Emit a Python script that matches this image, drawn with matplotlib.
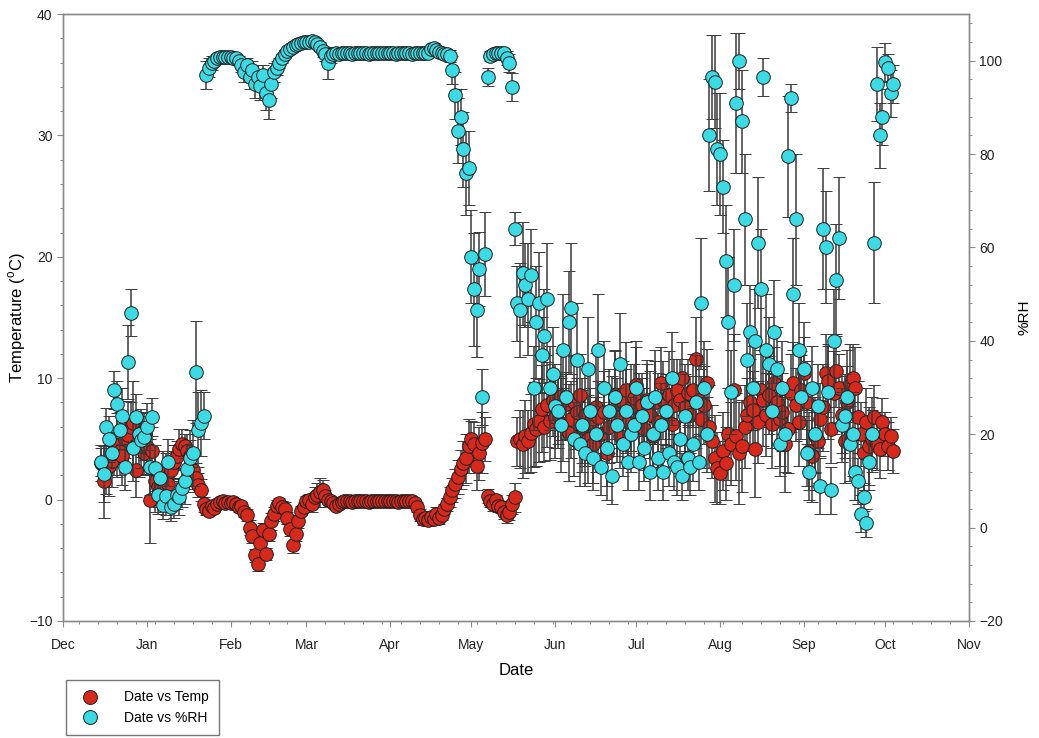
import matplotlib.pyplot as plt
import matplotlib.dates as mdates
from matplotlib.lines import Line2D
import pandas as pd

plt.rcParams['font.family'] = ['Liberation Sans', 'DejaVu Sans']
plt.rcParams['mathtext.fontset'] = 'custom'
plt.rcParams['mathtext.rm'] = 'Liberation Sans'

# daily readings, 15 Dec 2004 - 4 Oct 2005
dates = pd.date_range('2004-12-15', '2005-10-04', freq='D')

temp = [
    # Dec
    3.0, 1.5, 2.5, 2.8, 3.2, 3.8, 4.5, 4.0, 3.6, 5.0, 5.3, 6.0, 6.3, 2.4, 4.5, 5.5, 3.8,
    # Jan
    4.3, 0.0, 4.0, 1.5, 1.0, 0.8, 2.2, 1.8, 1.3, 2.4, 3.1, 3.6, 4.2, 4.6, 4.4, 4.0,
    3.6, 2.4, 1.8, 1.2, 0.8, -0.4, -0.8, -0.9, -0.5, -0.7, -0.4, -0.2, -0.1, -0.3, -0.2,
    # Feb
    -0.3, -0.2, -0.4, -0.6, -0.5, -1.0, -1.3, -2.3, -3.0, -4.6, -5.3, -3.6, -2.5, -4.5,
    -2.8, -1.8, -1.2, -0.5, -0.3, -0.6, -0.8, -1.5, -2.4, -3.7, -2.8, -1.8, -0.9, -0.6,
    # Mar
    -0.1, 0.0, -0.4, 0.2, 0.4, 0.6, 0.8, 0.3, 0.0, -0.1, -0.3, -0.5, -0.4, -0.2, -0.1, -0.1,
    -0.1, -0.2, -0.1, -0.1, -0.1, -0.1, -0.1, -0.2, -0.1, -0.1, -0.1, -0.1, -0.1, -0.1, -0.1,
    # Apr
    -0.1, -0.1, -0.1, -0.2, -0.1, -0.1, -0.1, -0.1, -0.1, -0.3, -0.6, -1.3, -1.6, -1.5, -1.7,
    -1.4, -1.6, -1.2, -1.5, -1.3, -0.8, -0.4, 0.2, 0.8, 1.3, 1.9, 2.5, 3.0, 3.4, 4.4,
    # May
    5.0, 4.6, 2.8, 3.8, 4.7, 5.0, 0.3, -0.1, -0.4, 0.0, -0.5, -0.6, -1.0, -1.3, -1.0, -0.4,
    0.2, 4.8, 5.0, 4.6, 5.2, 4.8, 5.5, 6.2, 5.8, 6.5, 7.5, 6.0, 7.8, 6.5, 8.2,
    # Jun
    6.8, 7.4, 8.5, 6.2, 7.9, 5.5, 6.6, 8.0, 7.2, 8.6, 6.0, 7.0, 5.0, 6.4, 4.6,
    7.6, 6.8, 5.4, 7.2, 3.8, 6.0, 7.4, 8.6, 6.8, 5.2, 8.0, 9.0, 6.4, 7.6, 8.4,
    # Jul
    9.4, 6.6, 7.8, 5.8, 8.2, 7.0, 5.2, 8.0, 6.4, 9.6, 8.2, 7.3, 8.6, 6.2, 7.8, 9.0,
    8.2, 10.0, 7.6, 8.8, 7.0, 9.0, 11.6, 8.2, 6.6, 7.8, 9.6, 6.0, 4.8, 3.4, 2.6,
    # Aug
    2.2, 4.0, 3.0, 5.4, 4.6, 9.0, 5.2, 3.8, 4.4, 6.0, 7.0, 8.0, 7.4, 4.2, 6.4, 9.0,
    8.2, 7.0, 8.6, 6.2, 9.6, 8.0, 6.6, 7.2, 4.6, 5.8, 8.8, 9.6, 7.8, 6.4, 9.0,
    # Sep
    10.4, 8.0, 4.0, 3.6, 5.2, 4.8, 6.6, 7.6, 10.4, 9.8, 5.8, 8.8, 10.6, 9.2, 7.0,
    4.8, 8.0, 9.6, 10.0, 9.2, 6.8, 5.4, 3.8, 6.4, 4.4, 5.0, 6.8, 4.6, 4.2, 6.4,
    # Oct
    5.4, 4.4, 5.2, 4.0,
]

temp_err = [
    1.5, 3.0, 2.0, 2.5, 2.2, 1.8, 2.6, 2.0, 2.4, 1.6, 2.8, 2.0, 3.5, 2.2, 2.6, 2.0, 1.8,
    2.2, 3.6, 2.0, 2.5, 1.6, 1.4, 1.8, 2.0, 1.5, 1.6, 1.4, 1.2, 1.6, 1.2, 1.0, 1.4,
    1.3, 1.5, 1.2, 1.0, 0.9, 0.6, 0.5, 0.4, 0.4, 0.3, 0.3, 0.3, 0.3, 0.3, 0.3,
    0.3, 0.3, 0.3, 0.4, 0.3, 0.4, 0.5, 0.6, 0.6, 0.5, 0.6, 0.7, 0.6, 0.5,
    0.6, 0.7, 0.6, 0.5, 0.4, 0.5, 0.6, 0.5, 0.6, 0.7, 0.6, 0.5, 0.4, 0.4,
    0.4, 0.5, 0.6, 0.8, 1.0, 1.2, 0.8, 0.5, 0.4, 0.3, 0.3, 0.3, 0.2, 0.2, 0.2, 0.1,
    0.1, 0.2, 0.1, 0.1, 0.1, 0.1, 0.1, 0.2, 0.1, 0.1, 0.1, 0.1, 0.1, 0.1, 0.1,
    0.1, 0.1, 0.1, 0.2, 0.1, 0.1, 0.1, 0.1, 0.2, 0.3, 0.4, 0.5, 0.5, 0.6, 0.5,
    0.4, 0.5, 0.6, 0.5, 0.4, 0.4, 0.5, 0.8, 1.0, 1.2, 1.4, 1.6, 1.8, 2.0, 2.2,
    1.5, 1.8, 2.0, 2.2, 2.5, 1.8, 0.6, 0.5, 0.5, 0.4, 0.5, 0.5, 0.6, 0.6, 0.7, 0.8,
    1.2, 2.0, 2.4, 2.8, 3.0, 2.6, 3.2, 3.5, 3.0, 3.4, 3.6, 2.8, 3.5, 3.2, 3.0,
    3.4, 2.8, 3.6, 3.0, 2.6, 4.0, 3.2, 3.8, 2.8, 3.4, 3.0, 4.2, 3.6, 2.8, 3.2,
    4.5, 3.0, 2.6, 3.4, 3.8, 3.0, 2.8, 3.6, 3.2, 2.6, 3.4, 4.0, 3.0, 3.6, 2.8,
    3.2, 3.8, 2.6, 3.4, 3.0, 3.6, 2.8, 3.4, 4.0, 3.0, 3.2, 2.8, 3.6, 3.0, 3.8, 2.6,
    3.4, 3.0, 3.6, 2.8, 3.2, 3.0, 3.4, 3.0, 3.6, 3.2, 2.8, 3.4, 3.0, 3.6, 3.0,
    2.6, 3.2, 3.0, 3.8, 3.4, 4.6, 3.6, 4.2, 3.8, 3.4, 3.0, 3.6, 3.2, 4.0, 3.4, 3.0,
    3.8, 3.4, 3.2, 3.6, 3.0, 3.4, 3.8, 3.2, 4.0, 3.6, 3.2, 3.4, 3.0, 3.6, 3.2,
    3.0, 3.4, 3.2, 3.8, 3.0, 3.4, 3.0, 3.6, 3.2, 3.0, 2.8, 3.4, 3.0, 2.8, 3.2,
    3.4, 3.0, 3.2, 2.8, 3.4, 3.0, 2.6, 3.0, 2.8, 3.2, 2.4, 2.6, 2.2, 2.4, 2.0,
    1.8, 2.0, 1.6, 1.8,
]

rh = [
    # Dec
    14, 11.5, 21.6, 19, 16, 29.5, 26.5, 20.8, 24, 13, 35.5, 46, 17, 23.7, 20, 18.8, 19.5,
    # Jan
    21.6, 13, 23.7, 12.8, 7, 10.6, 4.9, 6.8, 14, 4.4, 5, 7, 6.6, 8.5, 10, 12.6,
    15, 16, 33.3, 21, 22.4, 24, 97, 98.5, 99.5, 100, 100.5, 100.8, 100.8, 100.8, 100.8,
    # Feb
    100.8, 100.5, 100.5, 100, 99, 97.5, 99, 96.5, 98, 95, 96.5, 94.5, 97, 93,
    91.5, 95, 97.5, 98.5, 99.5, 100.5, 101.5, 102, 102.5, 103, 103.3, 103.5, 103.8, 104,
    # Mar
    104, 104, 104.2, 104, 103.6, 103, 102, 101.5, 99.5, 101, 101.5, 101.6, 101.5, 101.6, 101.7, 101.6,
    101.6, 101.5, 101.6, 101.6, 101.7, 101.6, 101.6, 101.5, 101.6, 101.6, 101.6, 101.7, 101.6, 101.6, 101.6,
    # Apr
    101.6, 101.6, 101.5, 101.6, 101.7, 101.6, 101.6, 101.6, 101.5, 101.6, 101.6, 101.7, 101.6, 101.6, 101.6,
    102.4, 102.7, 102.2, 101.8, 101.6, 101.5, 101.5, 101, 98, 92.6, 85, 88, 81, 76, 77,
    # May
    58, 51, 46.6, 55.4, 28, 58.6, 96.5, 101, 101.5, 101.6, 101.6, 101.6, 101.6, 100.5, 99.5, 94.4,
    64, 48, 46.6, 54.5, 52, 49, 54, 30, 44, 48, 37, 41, 49, 30, 33,
    # Jun
    26, 25, 22, 38, 28, 44, 47, 19, 36, 18, 22, 16, 34, 25, 15,
    20, 38, 13, 30, 17, 25, 11, 28, 22, 35, 18, 25, 14, 20, 22,
    # Jul
    30, 14, 24, 17, 27, 12, 20, 28, 15, 22, 12, 25, 16, 32, 14, 13,
    19, 11, 24, 15, 13, 18, 27, 14, 48, 30, 20, 84, 96.5, 95.5, 81,
    # Aug
    80, 73, 57, 44, 29, 52, 91, 100, 87, 66, 36, 42, 30, 40, 61, 51,
    96.5, 38, 35, 25, 42, 34, 18, 30, 20, 79.5, 92, 50, 66, 38, 28,
    # Sep
    34, 16, 12, 30, 20, 26, 9, 64, 60, 29, 8, 40, 53, 62, 22,
    24, 28, 18, 20, 12, 10, 3, 6.5, 1, 14, 20, 61, 95, 84, 88,
    # Oct
    99.7, 98.4, 93, 95,
]

rh_err = [
    3, 6, 4, 5, 3, 4, 5, 4, 6, 5, 8, 5, 7, 5, 4, 6, 5,
    5, 6, 4, 5, 4, 3, 3, 4, 5, 3, 3, 3, 4, 4, 5, 5,
    6, 7, 11, 8, 7, 5, 3, 2, 1.5, 1, 1, 0.8, 0.8, 0.8, 0.8,
    0.8, 0.8, 1, 1, 1.5, 2, 1.5, 2.5, 2, 3, 2.5, 3, 2, 3.5,
    4, 3, 2, 1.5, 1, 1, 0.8, 0.8, 0.8, 0.6, 0.6, 0.6, 0.6, 0.6,
    0.6, 0.6, 0.6, 0.6, 0.8, 1, 1.2, 1.5, 3.5, 1.5, 1, 0.5, 0.5, 0.5, 0.5, 0.5,
    0.5, 0.5, 0.5, 0.5, 0.5, 0.5, 0.5, 0.5, 0.5, 0.5, 0.5, 0.5, 0.5, 0.5, 0.5,
    0.5, 0.5, 0.5, 0.5, 0.5, 0.5, 0.5, 0.5, 0.5, 0.5, 0.5, 0.5, 0.5, 0.5, 0.5,
    0.8, 1, 0.8, 0.6, 0.5, 0.6, 0.8, 1.2, 3, 5, 7, 6, 8, 9, 8,
    10, 12, 10, 8, 6, 9, 2, 1, 0.8, 0.6, 0.6, 0.6, 0.8, 1.5, 2, 3,
    3.5, 8, 10, 11, 9, 12, 10, 9, 12, 11, 8, 10, 12, 9, 10,
    9, 8, 10, 12, 9, 11, 14, 8, 12, 9, 10, 7, 11, 9, 7,
    8, 12, 6, 10, 8, 9, 6, 10, 8, 11, 7, 9, 6, 8, 9,
    10, 6, 8, 7, 9, 6, 8, 10, 7, 9, 6, 8, 7, 10, 6, 6,
    8, 5, 9, 7, 6, 8, 10, 6, 14, 10, 8, 12, 9, 10, 12,
    13, 10, 12, 14, 9, 12, 15, 6, 11, 14, 12, 10, 9, 11, 14, 13,
    4, 12, 10, 8, 11, 9, 7, 10, 8, 13, 3, 12, 14, 10, 9,
    10, 7, 6, 9, 8, 9, 6, 13, 12, 10, 5, 11, 12, 13, 8,
    9, 10, 8, 9, 6, 5, 4, 3, 3, 6, 8, 13, 8, 7, 6,
    4, 3, 5, 4,
]

red = '#d8281a'
cyan = '#3adbe4'
edge = '#1e1e1e'
bar_col = '#3a3a3a'
spine_col = '#8a8a8a'

fig = plt.figure(figsize=(10.39, 7.38), dpi=100)
ax1 = fig.add_axes([63 / 1039, 1 - 621 / 738, 906 / 1039, 607 / 738])
ax2 = ax1.twinx()

ax1.errorbar(dates, temp, yerr=temp_err, fmt='o', ms=9.8, mfc=red, mec=edge, mew=0.7,
             ecolor=bar_col, elinewidth=1.1, capsize=4, capthick=1.1, zorder=3)
ax2.errorbar(dates, rh, yerr=rh_err, fmt='o', ms=9.8, mfc=cyan, mec=edge, mew=0.7,
             ecolor=bar_col, elinewidth=1.1, capsize=4, capthick=1.1, zorder=3)

ax1.set_xlim(pd.Timestamp('2004-12-01'), pd.Timestamp('2005-11-01'))
ax1.set_ylim(-10, 40)
ax2.set_ylim(-20, 110)
ax1.set_yticks(range(-10, 41, 10))
ax2.set_yticks(range(-20, 101, 20))
ax1.yaxis.set_minor_locator(plt.MultipleLocator(2))
ax2.yaxis.set_minor_locator(plt.MultipleLocator(4))

ax1.xaxis.set_major_locator(mdates.MonthLocator())
ax1.xaxis.set_major_formatter(mdates.DateFormatter('%b'))
ax1.xaxis.set_minor_locator(mdates.WeekdayLocator(byweekday=mdates.TU))

for ax in (ax1, ax2):
    for sp in ax.spines.values():
        sp.set_color(spine_col)
        sp.set_linewidth(1.0)
    ax.tick_params(which='major', direction='out', length=4, width=0.8,
                   color=spine_col, labelsize=10, labelcolor='#222222')
    ax.tick_params(which='minor', direction='out', length=2.5, width=0.7, color=spine_col)

ax1.tick_params(axis='x', pad=8)
ax1.set_xlabel('Date', fontsize=12, labelpad=8)
ax1.set_ylabel(r'Temperature ($^{\rm o}$C)', fontsize=12, labelpad=1)
ax2.set_ylabel('%RH', fontsize=11, labelpad=10)

handles = [
    Line2D([0], [0], marker='o', ls='none', ms=10, mfc=red, mec=edge, mew=0.7, label='Date vs Temp'),
    Line2D([0], [0], marker='o', ls='none', ms=10, mfc=cyan, mec=edge, mew=0.7, label='Date vs %RH'),
]
leg = fig.legend(handles=handles, loc='upper left', bbox_to_anchor=(66 / 1039, 1 - 680 / 738),
                 fontsize=10, frameon=True, fancybox=False, edgecolor='#555555',
                 borderpad=0.75, labelspacing=0.45, handletextpad=1.4, borderaxespad=0)
leg.get_frame().set_linewidth(1.0)

fig.savefig('out.png', dpi=100)
